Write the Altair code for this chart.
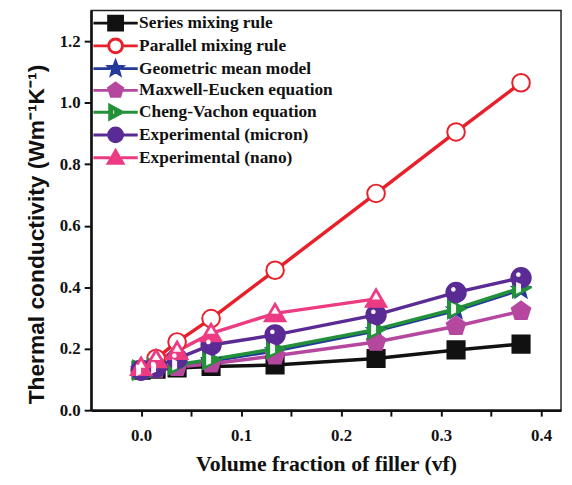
import math
import altair as alt
import pandas as pd

# ---------------- data ----------------
series_names = [
    "Series mixing rule",
    "Parallel mixing rule",
    "Geometric mean model",
    "Maxwell-Eucken equation",
    "Cheng-Vachon equation",
    "Experimental (micron)",
    "Experimental (nano)",
]
x_vals = [0.0, 0.015, 0.036, 0.07, 0.134, 0.235, 0.315, 0.38]
x_nano = [0.0, 0.015, 0.036, 0.07, 0.134, 0.235]

series_rule = [0.130, 0.133, 0.137, 0.142, 0.147, 0.168, 0.196, 0.215]
parallel_rule = [0.130, 0.168, 0.222, 0.298, 0.455, 0.705, 0.905, 1.065]
geometric_mean = [0.130, 0.136, 0.145, 0.160, 0.193, 0.258, 0.325, 0.392]
maxwell_eucken = [0.130, 0.134, 0.140, 0.151, 0.177, 0.222, 0.273, 0.322]
cheng_vachon = [0.130, 0.137, 0.148, 0.165, 0.200, 0.263, 0.330, 0.398]
exp_micron = [0.130, 0.140, 0.168, 0.212, 0.245, 0.310, 0.383, 0.431]
exp_nano = [0.140, 0.165, 0.192, 0.250, 0.315, 0.362]

line_colors = ["#111111", "#e8202a", "#24399a", "#b5489e", "#23913a", "#5a2b94", "#ec3b82"]
fill_colors = ["#111111", "#ffffff", "#24399a", "#b5489e", "#23913a", "#5a2b94", "#ec3b82"]

x_ticks = [round(i * 0.05, 2) for i in range(9)]
y_ticks = [round(i * 0.1, 1) for i in range(13)]

values = [series_rule, parallel_rule, geometric_mean, maxwell_eucken,
          cheng_vachon, exp_micron, exp_nano]
xs = [x_vals] * 6 + [x_nano]

rows = []
for i, (name, xv, yv) in enumerate(zip(series_names, xs, values)):
    for x, y in zip(xv, yv):
        rows.append({"series": name, "order": i, "x": x, "y": y})
df = pd.DataFrame(rows)

# ---------------- marker shapes (style) ----------------
def poly(pts):
    return "M" + "L".join(f"{a:.3f},{b:.3f}" for a, b in pts) + "Z"

def circ(cx, cy, r):
    return (f"M{cx + r:.3f},{cy:.3f}A{r:.3f},{r:.3f},0,1,1,{cx - r:.3f},{cy:.3f}"
            f"A{r:.3f},{r:.3f},0,1,1,{cx + r:.3f},{cy:.3f}Z")

SQUARE = poly([(-1, -1), (1, -1), (1, 1), (-1, 1)])
CIRCLE = circ(0, 0, 1)
STAR = poly([((1 if k % 2 == 0 else 0.42) * math.cos(math.radians(-90 + 36 * k)),
              (1 if k % 2 == 0 else 0.42) * math.sin(math.radians(-90 + 36 * k)))
             for k in range(10)])
PENT = poly([(1.05 * math.cos(math.radians(-90 + 72 * k)),
              1.05 * math.sin(math.radians(-90 + 72 * k))) for k in range(5)])
TRI_R = poly([(-0.85, -1), (1, 0), (-0.85, 1)])
TRI_U = poly([(0, -1), (1.05, 0.8), (-1.05, 0.8)])

base_shapes = [SQUARE, CIRCLE, STAR, PENT, TRI_R, CIRCLE, TRI_U]
base_sizes = [300, 400, 440, 420, 330, 430, 500]

# white overlays for half-filled / shaded markers
over_names = ["Cheng-Vachon equation", "Experimental (micron)", "Experimental (nano)"]
over_shapes = [
    poly([(-0.55, -0.66), (0.0, -0.42), (0.0, 0.42), (-0.55, 0.66)]),
    circ(-0.28, -0.32, 0.24),
    poly([(0, -0.62), (0.4, 0.05), (-0.4, 0.05)]),
]
over_sizes = [330, 430, 500]

# legend symbols: line stub + marker (holes for half-filled markers)
def with_line(marker):
    return "M-3.2,0L-0.8,0M0.8,0L3.2,0" + marker

leg_shapes = [
    with_line(SQUARE),
    with_line(CIRCLE),
    with_line(STAR),
    with_line(PENT),
    with_line(TRI_R + poly([(-0.55, -0.6), (-0.55, 0.6), (0.0, 0.35), (0.0, -0.35)])),
    with_line(CIRCLE + circ(-0.3, -0.3, 0.18)),
    with_line(TRI_U + poly([(0, -0.55), (-0.42, 0.15), (0.42, 0.15)])),
]

SERIF = "Liberation Serif"
SANS = "Liberation Sans"

x_enc = alt.X("x:Q", scale=alt.Scale(domain=[-0.05, 0.42], nice=False, zero=False),
              axis=alt.Axis(values=x_ticks,
                            labelExpr="(round(datum.value*100) % 10 == 0) ? format(datum.value, '.1f') : ''",
                            title="Volume fraction of filler (vf)",
                            titleFont=SERIF, titleFontSize=22,
                            tickSize=6, tickWidth=2, labelPadding=12, titlePadding=10))
y_enc = alt.Y("y:Q", scale=alt.Scale(domain=[0, 1.3], nice=False, zero=True),
              axis=alt.Axis(values=y_ticks,
                            labelExpr="(round(datum.value*10) % 2 == 0) ? format(datum.value, '.1f') : ''",
                            title="Thermal conductivity (Wm⁻¹K⁻¹)",
                            titleFont=SANS, titleFontSize=23, titleY=226,
                            tickSize=7, tickWidth=2, labelPadding=4, titlePadding=11))

base = alt.Chart(df)

lines = base.mark_line(strokeWidth=3.5).encode(
    x=x_enc, y=y_enc,
    color=alt.Color("series:N", scale=alt.Scale(domain=series_names, range=line_colors), legend=None),
    detail="series:N",
)

points = base.mark_point(filled=True, opacity=1, strokeWidth=2).encode(
    x="x:Q", y="y:Q",
    shape=alt.Shape("series:N", scale=alt.Scale(domain=series_names, range=base_shapes), legend=None),
    fill=alt.Fill("series:N", scale=alt.Scale(domain=series_names, range=fill_colors), legend=None),
    stroke=alt.Stroke("series:N", scale=alt.Scale(domain=series_names, range=line_colors), legend=None),
    size=alt.Size("series:N", scale=alt.Scale(domain=series_names, range=base_sizes), legend=None),
    order=alt.Order("order:Q"),
)

overlays = base.transform_filter(
    alt.FieldOneOfPredicate(field="series", oneOf=over_names)
).mark_point(filled=True, opacity=0.95, fill="#ffffff", strokeWidth=0).encode(
    x="x:Q", y="y:Q",
    shape=alt.Shape("series:N", scale=alt.Scale(domain=over_names, range=over_shapes), legend=None),
    size=alt.Size("series:N", scale=alt.Scale(domain=over_names, range=over_sizes), legend=None),
)

leg = alt.Legend(
    orient="none", legendX=16, legendY=4, title=None,
    symbolSize=196, symbolStrokeWidth=3, symbolOpacity=1,
    labelFont=SERIF, labelFontWeight="bold", labelFontSize=17.5, labelColor="#111111",
    labelLimit=400, labelOffset=15, rowPadding=-4, padding=0,
)

legend_layer = base.transform_filter("false").mark_point(filled=True, opacity=1).encode(
    x="x:Q", y="y:Q",
    shape=alt.Shape("series:N", scale=alt.Scale(domain=series_names, range=leg_shapes), legend=leg),
    fill=alt.Fill("series:N", scale=alt.Scale(domain=series_names, range=fill_colors), legend=leg),
    stroke=alt.Stroke("series:N", scale=alt.Scale(domain=series_names, range=line_colors), legend=leg),
)

chart = alt.layer(lines, points, overlays, legend_layer).resolve_scale(
    shape="independent", fill="independent", stroke="independent", size="independent"
).properties(
    width=475, height=404,
    autosize=alt.AutoSizeParams(type="none"),
    padding={"left": 84, "top": 0, "right": 3, "bottom": 64},
).configure_view(
    stroke="#222222", strokeWidth=1.5
).configure_axis(
    labelFont=SERIF, labelFontWeight="bold", labelFontSize=17, labelColor="#111111",
    titleFontWeight="bold", titleColor="#111111",
    domainColor="#111111", domainWidth=2.5, tickColor="#111111", grid=False,
)

chart.save("out.html", embed_options={"renderer": "svg", "actions": False})
